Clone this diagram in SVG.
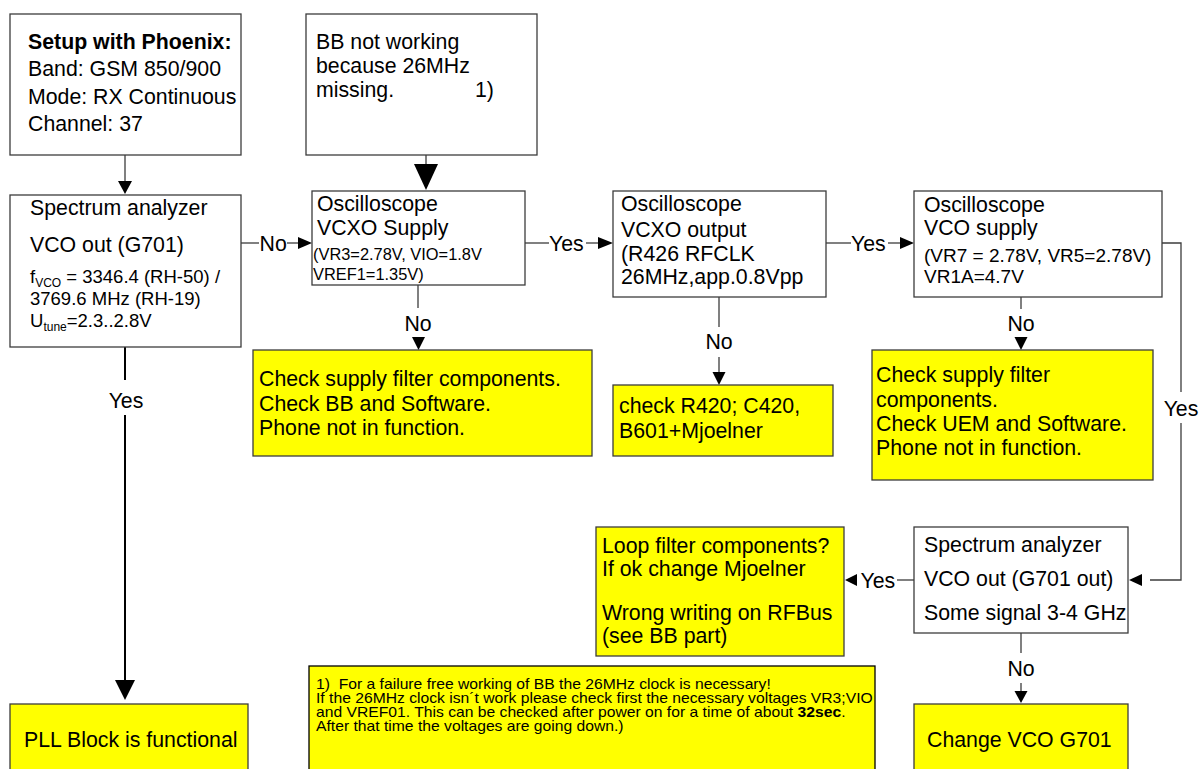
<svg xmlns="http://www.w3.org/2000/svg" width="1204" height="769" viewBox="0 0 1204 769">
<style>
.box{fill:#fff;stroke:#3c3c3c;stroke-width:1.3}
.ybox{fill:#ffff00;stroke:#3c3c3c;stroke-width:1.3}
.ln{stroke:#3c3c3c;stroke-width:1.3;fill:none}
.thick{stroke:#000;stroke-width:2;fill:none}
.ah{fill:#000}
text{font-family:'Liberation Sans',Arial,sans-serif;font-size:21.3px;fill:#000}
.s18{font-size:18.5px}
.s19{font-size:19px}
.s16{font-size:16.4px}
.fn{font-size:14px}
.b{font-weight:bold}
.c{text-anchor:middle}
</style>
<rect width="1204" height="769" fill="#fff"/>

<g id="connectors">
  <line class="ln" x1="125" y1="155" x2="125" y2="181"/>
  <polygon class="ah" points="118,181 132,181 125,194"/>

  <line class="ln" x1="426" y1="155" x2="426" y2="164"/>
  <polygon class="ah" points="414,164 438,164 426,190"/>

  <line class="ln" x1="241" y1="243" x2="259" y2="243"/>
  <text x="259.5" y="250.5">No</text>
  <line class="ln" x1="287" y1="243" x2="298" y2="243"/>
  <polygon class="ah" points="298,237 298,249 312,243"/>

  <line class="ln" x1="525" y1="243" x2="549" y2="243"/>
  <text x="549" y="250.5">Yes</text>
  <line class="ln" x1="586" y1="243" x2="598" y2="243"/>
  <polygon class="ah" points="598,237 598,249 613,243"/>

  <line class="ln" x1="826" y1="243" x2="851" y2="243"/>
  <text x="851" y="250.5">Yes</text>
  <line class="ln" x1="888" y1="243" x2="900" y2="243"/>
  <polygon class="ah" points="900,237 900,249 914,243"/>

  <line class="ln" x1="418" y1="285" x2="418" y2="308"/>
  <text class="c" x="418" y="331">No</text>
  <polygon class="ah" points="412,337 425,337 418.5,350"/>

  <line class="ln" x1="719" y1="297" x2="719" y2="327"/>
  <text class="c" x="719" y="349">No</text>
  <line class="ln" x1="719" y1="357" x2="719" y2="372"/>
  <polygon class="ah" points="712.5,372 725.5,372 719,385"/>

  <line class="ln" x1="1021" y1="297" x2="1021" y2="309"/>
  <text class="c" x="1021" y="331">No</text>
  <polygon class="ah" points="1014.5,337 1027.5,337 1021,350"/>

  <polyline class="ln" points="1162,243 1181,243 1181,392"/>
  <text class="c" x="1181" y="416">Yes</text>
  <polyline class="ln" points="1181,423 1181,580 1150,580"/>
  <polygon class="ah" points="1142,574 1142,586 1129,580"/>

  <line class="ln" x1="914" y1="580" x2="897" y2="580"/>
  <text x="860.5" y="587.5">Yes</text>
  <polygon class="ah" points="857,574 857,586 845,580"/>

  <line class="ln" x1="1021" y1="633" x2="1021" y2="653"/>
  <text class="c" x="1021" y="676">No</text>
  <line class="ln" x1="1021" y1="683" x2="1021" y2="691"/>
  <polygon class="ah" points="1014.5,691 1027.5,691 1021,703"/>

  <line class="thick" x1="125" y1="347" x2="125" y2="380"/>
  <text class="c" x="126" y="408">Yes</text>
  <line class="thick" x1="125" y1="415" x2="125" y2="681"/>
  <polygon class="ah" points="115,680 135,680 125,700"/>
</g>

<g id="setup">
  <rect class="box" x="10" y="14" width="231" height="141"/>
  <text class="b" x="28" y="49">Setup with Phoenix:</text>
  <text x="28" y="76">Band: GSM 850/900</text>
  <text x="28" y="104">Mode: RX Continuous</text>
  <text x="28" y="131">Channel: 37</text>
</g>

<g id="bb-not-working">
  <rect class="box" x="306" y="14" width="231" height="141"/>
  <text x="316" y="49">BB not working</text>
  <text x="316" y="73">because 26MHz</text>
  <text x="316" y="97">missing.</text>
  <text x="475" y="97">1)</text>
</g>

<g id="spectrum1">
  <rect class="box" x="10" y="195" width="231" height="152"/>
  <text x="30" y="215">Spectrum analyzer</text>
  <text x="30" y="252">VCO out (G701)</text>
  <text class="s18" x="30" y="283">f<tspan font-size="12" dy="4">VCO</tspan><tspan dy="-4"> = 3346.4 (RH-50) /</tspan></text>
  <text class="s18" x="30" y="305">3769.6 MHz (RH-19)</text>
  <text class="s18" x="30" y="327">U<tspan font-size="12" dy="4">tune</tspan><tspan dy="-4">=2.3..2.8V</tspan></text>
</g>

<g id="vcxo-supply">
  <rect class="box" x="312" y="191" width="213" height="94"/>
  <text x="317" y="211">Oscilloscope</text>
  <text x="317" y="235">VCXO Supply</text>
  <text class="s16" x="313" y="260">(VR3=2.78V, VIO=1.8V</text>
  <text class="s16" x="313" y="280">VREF1=1.35V)</text>
</g>

<g id="vcxo-output">
  <rect class="box" x="613" y="191" width="213" height="106"/>
  <text x="621" y="211">Oscilloscope</text>
  <text x="621" y="237">VCXO output</text>
  <text x="621" y="261">(R426 RFCLK</text>
  <text x="621" y="284">26MHz,app.0.8Vpp</text>
</g>

<g id="vco-supply">
  <rect class="box" x="914" y="191" width="248" height="106"/>
  <text x="924" y="212">Oscilloscope</text>
  <text x="924" y="235">VCO supply</text>
  <text class="s19" x="924" y="262">(VR7 = 2.78V, VR5=2.78V)</text>
  <text class="s19" x="924" y="283">VR1A=4.7V</text>
</g>

<g id="check-bb">
  <rect class="ybox" x="253" y="350" width="339" height="106"/>
  <text x="259" y="386">Check supply filter components.</text>
  <text x="259" y="411">Check BB and Software.</text>
  <text x="259" y="435">Phone not in function.</text>
</g>

<g id="check-r420">
  <rect class="ybox" x="613" y="385" width="220" height="71"/>
  <text x="619" y="413">check R420; C420,</text>
  <text x="619" y="438">B601+Mjoelner</text>
</g>

<g id="check-uem">
  <rect class="ybox" x="872" y="350" width="281" height="130"/>
  <text x="876" y="382">Check supply filter</text>
  <text x="876" y="407">components.</text>
  <text x="876" y="431">Check UEM and Software.</text>
  <text x="876" y="455">Phone not in function.</text>
</g>

<g id="spectrum2">
  <rect class="box" x="914" y="527" width="214" height="106"/>
  <text x="924" y="552">Spectrum analyzer</text>
  <text x="924" y="586">VCO out (G701 out)</text>
  <text x="924" y="620">Some signal 3-4 GHz</text>
</g>

<g id="loop-filter">
  <rect class="ybox" x="596" y="527" width="248" height="129"/>
  <text x="602" y="553">Loop filter components?</text>
  <text x="602" y="576">If ok change Mjoelner</text>
  <text x="602" y="620">Wrong writing on RFBus</text>
  <text x="602" y="643">(see BB part)</text>
</g>

<g id="pll-functional">
  <rect class="ybox" x="10" y="704" width="238" height="75"/>
  <text x="24" y="747">PLL Block is functional</text>
</g>

<g id="change-vco">
  <rect class="ybox" x="914" y="704" width="214" height="75"/>
  <text x="927" y="747">Change VCO G701</text>
</g>

<g id="footnote">
  <rect class="ybox" x="309" y="666" width="566" height="115" style="stroke:#000"/>
  <g transform="translate(316,0) scale(1.12,1)">
    <text class="fn" x="0" y="689" xml:space="preserve">1)  For a failure free working of BB the 26MHz clock is necessary!</text>
    <text class="fn" x="0" y="703">If the 26MHz clock isn´t work please check first the necessary voltages VR3;VIO</text>
    <text class="fn" x="0" y="717">and VREF01. This can be checked after power on for a time of about <tspan class="b">32sec</tspan>.</text>
    <text class="fn" x="0" y="731">After that time the voltages are going down.)</text>
  </g>
</g>
</svg>
